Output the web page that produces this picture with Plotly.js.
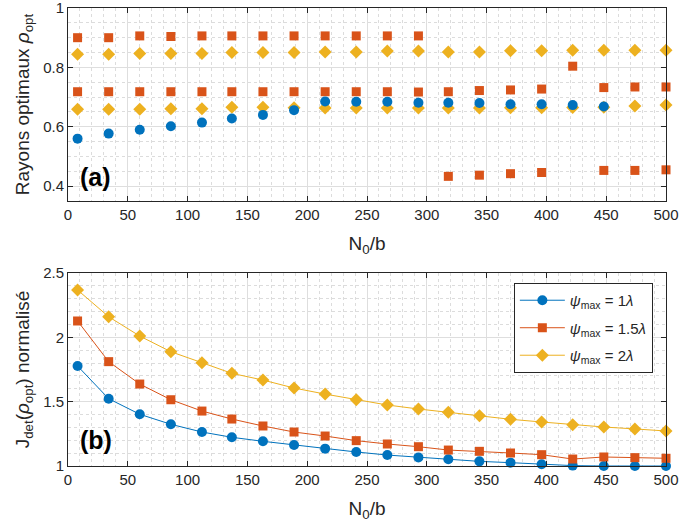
<!DOCTYPE html>
<html>
<head>
<meta charset="utf-8">
<script src="https://cdn.plot.ly/plotly-3.0.1.min.js"></script>
<style>html,body{margin:0;padding:0;background:#fff;}#plot{width:680px;height:530px;}</style>
</head>
<body>
<div id="plot"></div>
<script>
// N0/b values
var xN = [8, 34, 60, 86, 112, 137, 163, 189, 215, 241, 267, 293, 318, 344, 370, 396, 422, 448, 474, 500];

// (a) optimal radii
var rhoBlue = [0.560, 0.577, 0.590, 0.602, 0.614, 0.628, 0.640, 0.656, 0.685, 0.684, 0.684, 0.681, 0.681, 0.680, 0.676, 0.676, 0.673, 0.668, null, null];
var rhoOrangeHigh = [0.900, 0.900, 0.906, 0.904, 0.906, 0.906, 0.906, 0.906, 0.906, 0.906, 0.906, 0.906, null, null, null, null, 0.804, null, null, null];
var rhoOrangeMid = [0.718, 0.718, 0.718, 0.718, 0.718, 0.718, 0.718, 0.718, 0.718, 0.718, 0.718, 0.717, 0.718, 0.722, 0.724, 0.727, null, 0.732, 0.734, 0.734];
var rhoOrangeLow = [null, null, null, null, null, null, null, null, null, null, null, null, 0.433, 0.437, 0.442, 0.446, null, 0.453, 0.453, 0.455];
var rhoYellowHigh = [0.844, 0.844, 0.847, 0.847, 0.847, 0.850, 0.850, 0.850, 0.852, 0.852, 0.855, 0.855, 0.852, 0.852, 0.856, 0.856, 0.858, 0.858, 0.858, 0.858];
var rhoYellowLow = [0.659, 0.659, 0.659, 0.661, 0.661, 0.666, 0.666, 0.664, 0.663, 0.663, 0.663, 0.663, 0.663, 0.663, 0.664, 0.664, 0.665, 0.666, 0.670, 0.673];

// (b) normalised J_det
var jBlue = [1.777, 1.523, 1.402, 1.324, 1.264, 1.223, 1.192, 1.163, 1.135, 1.109, 1.085, 1.067, 1.052, 1.036, 1.026, 1.013, 1.003, 1.000, 1.000, 1.000];
var jOrange = [2.127, 1.811, 1.637, 1.515, 1.427, 1.365, 1.311, 1.264, 1.233, 1.197, 1.171, 1.150, 1.124, 1.114, 1.101, 1.088, 1.054, 1.070, 1.065, 1.060];
var jYellow = [2.368, 2.160, 2.010, 1.888, 1.803, 1.720, 1.668, 1.606, 1.559, 1.515, 1.474, 1.443, 1.417, 1.391, 1.363, 1.342, 1.321, 1.303, 1.288, 1.272];

var seriesNames = ['<i>ψ</i><sub>max</sub> = 1<i>λ</i>', '<i>ψ</i><sub>max</sub> = 1.5<i>λ</i>', '<i>ψ</i><sub>max</sub> = 2<i>λ</i>'];
var yTicksTop = [0.4, 0.6, 0.8, 1];
var yTicksBottom = [1, 1.5, 2, 2.5];

var cBlue = '#0072BD', cOrange = '#D95319', cYellow = '#EDB120';
var mkCircle = {symbol: 'circle', size: 10, color: cBlue};
var mkSquare = {symbol: 'square', size: 9, color: cOrange};
var mkDiamond = {symbol: 'diamond', size: 10, color: cYellow};

function pts(y, mk, ax) {
  return {x: xN, y: y, type: 'scatter', mode: 'markers', marker: mk, xaxis: ax[0], yaxis: ax[1], showlegend: false, cliponaxis: false, hoverinfo: 'none'};
}
var top = ['x', 'y'];
var data = [
  pts(rhoYellowHigh, mkDiamond, top),
  pts(rhoYellowLow, mkDiamond, top),
  pts(rhoOrangeHigh, mkSquare, top),
  pts(rhoOrangeMid, mkSquare, top),
  pts(rhoOrangeLow, mkSquare, top),
  pts(rhoBlue, mkCircle, top),
  {x: xN, y: jBlue, type: 'scatter', mode: 'lines+markers', name: seriesNames[0], legendgroup: 'g1', marker: mkCircle, line: {color: cBlue, width: 1}, xaxis: 'x2', yaxis: 'y2', cliponaxis: false},
  {x: xN, y: jOrange, type: 'scatter', mode: 'lines+markers', name: seriesNames[1], legendgroup: 'g2', marker: mkSquare, line: {color: cOrange, width: 1}, xaxis: 'x2', yaxis: 'y2', cliponaxis: false},
  {x: xN, y: jYellow, type: 'scatter', mode: 'lines+markers', name: seriesNames[2], legendgroup: 'g3', marker: mkDiamond, line: {color: cYellow, width: 1}, xaxis: 'x2', yaxis: 'y2', cliponaxis: false}
];

var font = 'Liberation Sans, Arial, Helvetica, sans-serif';
var axisCol = '#262626';
function xax(anchor) {
  return {
    anchor: anchor, domain: [0, 1], range: [0, 500], tick0: 0, dtick: 50, ticks: 'inside', ticklen: 5, tickcolor: axisCol,
    showline: true, linecolor: axisCol, linewidth: 1, mirror: 'ticks', zeroline: false,
    showgrid: true, gridcolor: '#dedede', gridwidth: 1,
    minor: {dtick: 10, showgrid: true, gridcolor: '#dcdcdc', griddash: 'dot', gridwidth: 1},
    tickfont: {family: font, size: 15, color: axisCol}, ticklabeloverflow: 'allow',
    title: {text: 'N<sub>0</sub>/b', font: {family: font, size: 19, color: axisCol}, standoff: 14}
  };
}
function yax(anchor, range, tv, minorDt, domain, title) {
  return {
    anchor: anchor, domain: domain, range: range, tickmode: 'array', tickvals: tv, ticks: 'inside', ticklen: 5, tickcolor: axisCol,
    showline: true, linecolor: axisCol, linewidth: 1, mirror: 'ticks', zeroline: false,
    showgrid: true, gridcolor: '#dedede', gridwidth: 1,
    minor: {dtick: minorDt, tick0: 0, showgrid: true, gridcolor: '#dcdcdc', griddash: 'dot', gridwidth: 1},
    tickfont: {family: font, size: 15, color: axisCol}, ticklabeloverflow: 'allow',
    title: {text: title, font: {family: font, size: 19, color: axisCol}, standoff: 8}
  };
}

var layout = {
  width: 680, height: 530,
  margin: {l: 68, r: 14, t: 8, b: 64},
  paper_bgcolor: '#ffffff', plot_bgcolor: '#ffffff',
  font: {family: font, color: axisCol},
  xaxis: xax('y'),
  yaxis: yax('x', [0.35, 1], yTicksTop, 0.05, [0.5786, 1], 'Rayons optimaux <i>ρ</i><sub>opt</sub>'),
  xaxis2: xax('y2'),
  yaxis2: yax('x2', [1, 2.5], yTicksBottom, 0.1, [0, 0.4214], 'J<sub>det</sub>(<i>ρ</i><sub>opt</sub>) normalisé'),
  legend: {
    x: 0.978, xanchor: 'right', y: 0.3996, yanchor: 'top',
    bgcolor: '#ffffff', bordercolor: axisCol, borderwidth: 1,
    font: {family: font, size: 15, color: axisCol}, tracegroupgap: 5, itemwidth: 45
  },
  annotations: [
    {xref: 'x', yref: 'y', x: 8, y: 0.432, xanchor: 'left', yanchor: 'middle', text: '<b>(a)</b>', showarrow: false, font: {family: font, size: 25, color: '#000'}},
    {xref: 'x2', yref: 'y2', x: 8, y: 1.202, xanchor: 'left', yanchor: 'middle', text: '<b>(b)</b>', showarrow: false, font: {family: font, size: 25, color: '#000'}}
  ]
};

Plotly.newPlot('plot', data, layout, {staticPlot: true, displayModeBar: false});
</script>
</body>
</html>
